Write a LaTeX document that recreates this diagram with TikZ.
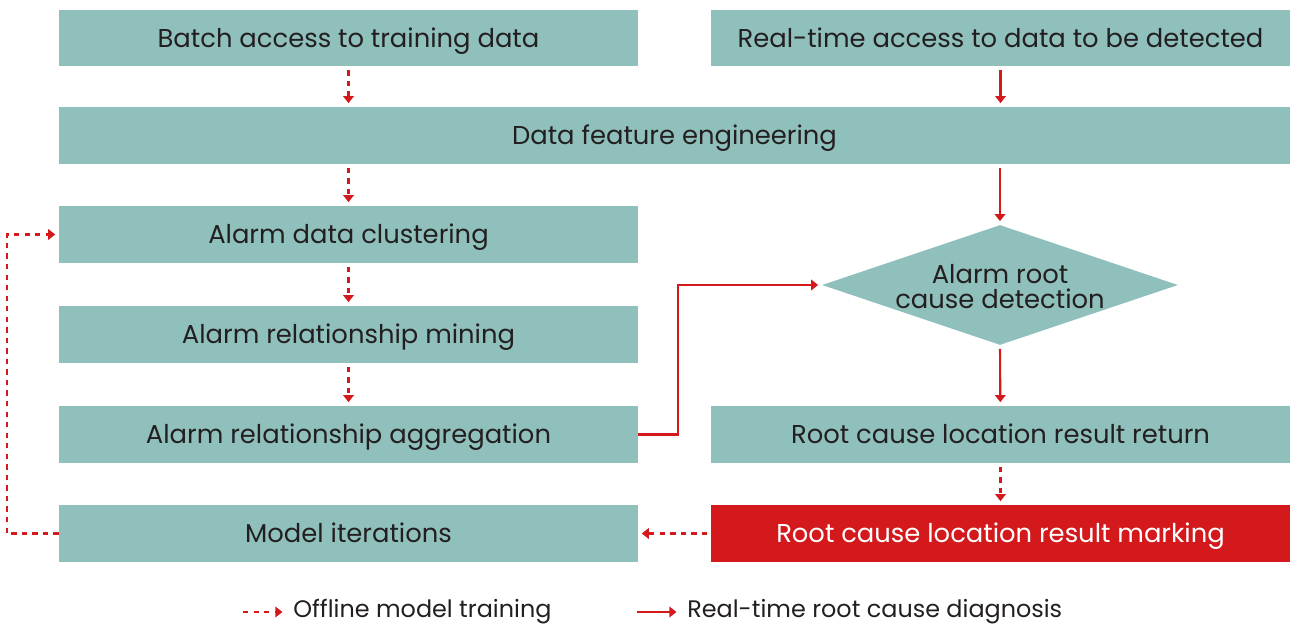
\documentclass[tikz,border=0pt]{standalone}
\usepackage{fontspec}
\setmainfont{Poppins}
\usetikzlibrary{shapes.geometric,arrows.meta}
\definecolor{boxteal}{HTML}{8FC0BC}
\definecolor{linered}{HTML}{D4191C}
\definecolor{inkgray}{HTML}{231F20}
\tikzset{
	box/.style={fill=boxteal, minimum width=11.58cm, minimum height=1.14cm, inner sep=0pt, text height=2.3ex, text depth=.4ex, text=inkgray, font=\fontsize{14.7}{16}\selectfont},
	off/.style={linered, line width=1.2pt, dash pattern=on 3pt off 3pt, -{Triangle[width=6pt,length=4pt]}, shorten <=2pt, shorten >=2pt},
	on/.style={linered, line width=1.2pt, -{Triangle[width=6pt,length=4pt]}, shorten <=2pt, shorten >=2pt},
	legend/.style={anchor=west, inner sep=0pt, text=inkgray, font=\fontsize{13.6}{15}\selectfont}
}
\begin{document}
\begin{tikzpicture}[x=0.02cm, y=-0.02cm]
	\useasboundingbox (0,0) rectangle (1292,625);
	% left column: offline training
	\node [box] (batch) at (348.5,38) {Batch access to training data};
	\node [box] (cluster) at (348.5,234.5) {Alarm data clustering};
	\node [box] (mining) at (348.5,334.5) {Alarm relationship mining};
	\node [box] (aggr) at (348.5,434.5) {Alarm relationship aggregation};
	\node [box] (model) at (348.5,533.5) {Model iterations};
	% right column: real-time diagnosis
	\node [box] (realtime) at (1000.5,38) {Real-time access to data to be detected};
	\node [box, minimum width=24.62cm] (feature) at (674.5,135.5) {Data feature engineering};
	\node [diamond, fill=boxteal, minimum width=7.12cm, minimum height=2.4cm, inner sep=0pt] (detect) at (1000,285) {};
	\node [align=center, text=inkgray, font=\fontsize{14.7}{14.2}\selectfont] (detecttxt) at (1000,287) {Alarm root\\cause detection};
	\node [box] (return) at (1000.5,434.5) {Root cause location result return};
	\node [box, fill=linered, text=white] (mark) at (1000.5,533.5) {Root cause location result marking};
	% connectors
	\draw [off] (batch) -- (batch |- feature.north);
	\draw [on] (realtime) -- (realtime |- feature.north);
	\draw [off] (cluster |- feature.south) -- (cluster);
	\draw [on] (detect |- feature.south) -- (detect.north);
	\draw [off] (cluster) -- (mining);
	\draw [off] (mining) -- (aggr);
	\draw [on, shorten <=0pt] (aggr.east) -- ++(40,0) |- (detect.west);
	\draw [on] (detect.south) -- (return);
	\draw [off] (return) -- (mark);
	\draw [off] (mark) -- (model);
	\draw [off, shorten <=0pt] (model.west) -- ++(-52,0) |- (cluster.west);
	% legend
	\node [legend] (offtxt) at (293,612) {Offline model training};
	\node [legend] (ontxt) at (687,612) {Real-time root cause diagnosis};
	\coordinate (offstart) at (243,612);
	\coordinate (onstart) at (637,612);
	\draw [off, shorten <=0pt, shorten >=6pt] (offstart) -- (offtxt.west);
	\draw [on, shorten <=0pt, shorten >=6pt] (onstart) -- (ontxt.west);
\end{tikzpicture}
\end{document}
